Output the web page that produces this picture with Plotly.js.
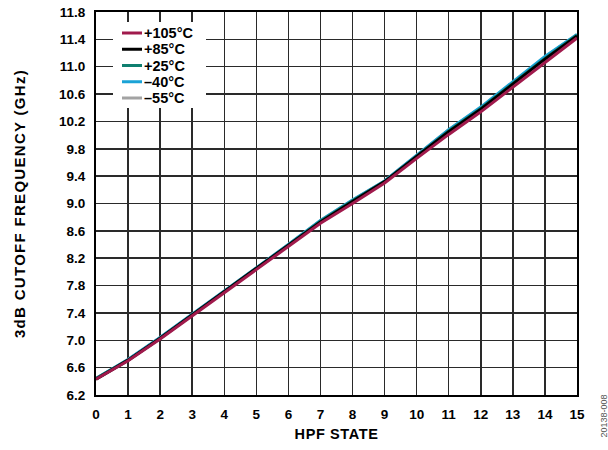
<!DOCTYPE html>
<html>
<head>
<meta charset="utf-8">
<script src="https://cdn.plot.ly/plotly-3.0.1.min.js"></script>
<style>
html,body{margin:0;padding:0;background:#fff;}
#chart{width:608px;height:450px;}
#chart .g-ytitle text{letter-spacing:1.3px;}
#chart .g-xtitle text{letter-spacing:0.6px;}
</style>
</head>
<body>
<div id="chart"></div>
<script>
var hpfState = [0,1,2,3,4,5,6,7,8,9,10,11,12,13,14,15];
var t105 = [6.43,6.70,7.02,7.36,7.69,8.03,8.38,8.71,9.00,9.30,9.66,10.01,10.34,10.70,11.07,11.42];
var t85  = [6.43,6.71,7.03,7.37,7.70,8.04,8.39,8.73,9.03,9.32,9.69,10.05,10.38,10.74,11.11,11.45];
var t25  = [6.44,6.71,7.03,7.37,7.71,8.04,8.39,8.74,9.04,9.32,9.69,10.06,10.39,10.75,11.12,11.46];
var tm40 = [6.44,6.72,7.04,7.38,7.72,8.05,8.40,8.75,9.05,9.33,9.70,10.08,10.41,10.78,11.15,11.47];
var tm55 = [6.44,6.72,7.04,7.38,7.72,8.05,8.40,8.75,9.05,9.33,9.70,10.08,10.40,10.77,11.14,11.47];
var seriesNames = ['+105°C','+85°C','+25°C','\u201340°C','\u201355°C'];
var seriesColors = ['#A01A4C','#000000','#0F7F70','#1BA3D6','#A3A3A3'];
var yTicks = [6.2,6.6,7.0,7.4,7.8,8.2,8.6,9.0,9.4,9.8,10.2,10.6,11.0,11.4,11.8];

var FONT = 'Liberation Sans, Arial, Helvetica, sans-serif';
var seriesValues = [t105, t85, t25, tm40, tm55];

// draw order: coldest first, +105°C on top
var data = [];
for (var i = seriesValues.length - 1; i >= 0; i--) {
  data.push({x: hpfState, y: seriesValues[i], name: seriesNames[i], type: 'scatter', mode: 'lines',
    line: {color: seriesColors[i], width: 3}, showlegend: false});
}

// legend drawn as layout decorations (compact spacing like the original)
var plotL = 96, plotW = 608 - 96 - 31, plotT = 12, plotH = 450 - 12 - 55;
function px2x(p){ return (p - plotL) / plotW; }
function py2y(p){ return (plotT + plotH - p) / plotH; }
var shapes = [{type: 'rect', xref: 'paper', yref: 'paper', layer: 'above',
  x0: px2x(113), x1: px2x(206), y0: py2y(108), y1: py2y(22),
  fillcolor: '#fff', line: {width: 0}}];
var annotations = [];
for (var k = 0; k < seriesNames.length; k++) {
  var yy = py2y(33 + k * 16.25);
  shapes.push({type: 'line', xref: 'paper', yref: 'paper', layer: 'above',
    x0: px2x(122), x1: px2x(142), y0: yy, y1: yy,
    line: {color: seriesColors[k], width: 3}});
  annotations.push({text: seriesNames[k], xref: 'paper', yref: 'paper', x: px2x(143), y: yy,
    xanchor: 'left', yanchor: 'middle', showarrow: false, borderpad: 0,
    font: {family: FONT, size: 14.5, weight: 'bold', color: '#000'}});
}
annotations.push({text: '20138-008', xref: 'paper', yref: 'paper', x: px2x(603), y: py2y(393),
  textangle: -90, showarrow: false, xanchor: 'center', yanchor: 'top',
  font: {family: FONT, size: 9, color: '#555'}});

var layout = {
  width: 608, height: 450,
  margin: {l: 96, r: 31, t: 12, b: 55},
  paper_bgcolor: '#fff', plot_bgcolor: '#fff',
  font: {family: FONT, color: '#000'},
  showlegend: false,
  xaxis: {range: [0, 15], tickmode: 'array', tickvals: hpfState, ticktext: hpfState.map(String),
    showgrid: true, gridcolor: '#2a2a2a', gridwidth: 1.5, zeroline: false,
    showline: true, linecolor: '#000', linewidth: 2, mirror: true, ticks: '',
    ticklabelstandoff: 6,
    tickfont: {family: FONT, size: 13.5, weight: 'bold', color: '#000'},
    title: {text: 'HPF STATE', standoff: 8, font: {family: FONT, size: 14.5, weight: 'bold', color: '#000'}}},
  yaxis: {range: [6.2, 11.8], tickmode: 'array', tickvals: yTicks, ticktext: yTicks.map(function(v){return v.toFixed(1);}),
    showgrid: true, gridcolor: '#2a2a2a', gridwidth: 1.5, zeroline: false,
    showline: true, linecolor: '#000', linewidth: 2, mirror: true, ticks: '',
    ticklabelstandoff: 6,
    tickfont: {family: FONT, size: 13.5, weight: 'bold', color: '#000'},
    title: {text: '3dB CUTOFF FREQUENCY (GHz)', standoff: 30, font: {family: FONT, size: 15, weight: 'bold', color: '#000'}}},
  shapes: shapes,
  annotations: annotations
};
Plotly.newPlot('chart', data, layout, {displayModeBar: false, staticPlot: true});
</script>
</body>
</html>
